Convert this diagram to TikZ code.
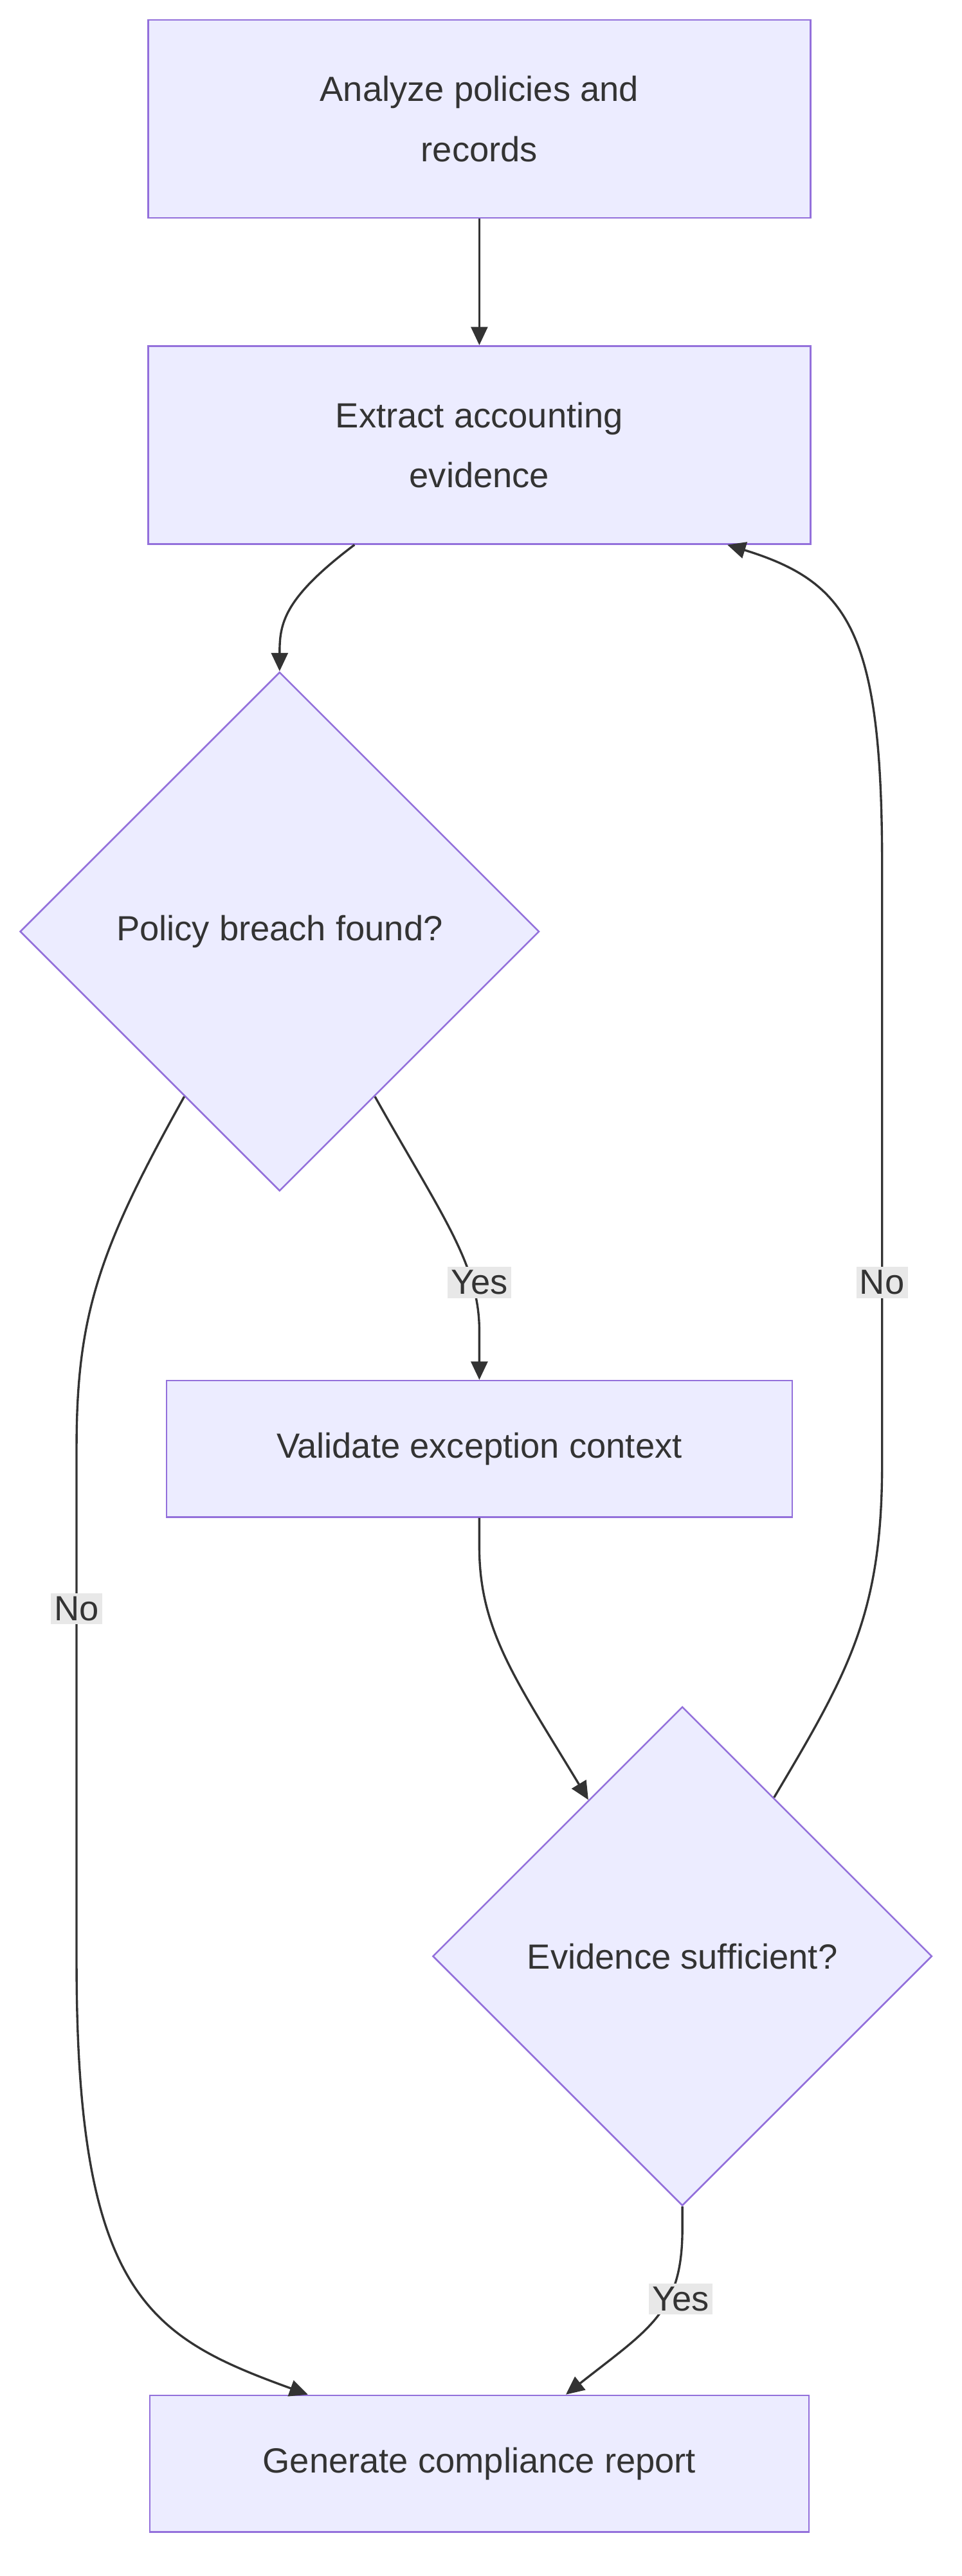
\documentclass[tikz,border=0pt]{standalone}
\usepackage{fontspec}
\setmainfont{Liberation Sans}
\usetikzlibrary{shapes.geometric,arrows.meta,calc}
\definecolor{nfill}{HTML}{ECECFF}
\definecolor{nstroke}{HTML}{9370DB}
\definecolor{txt}{HTML}{333333}
\definecolor{lbl}{HTML}{E8E8E8}
\begin{document}
\begin{tikzpicture}[x=1pt,y=-1pt,
  box/.style={draw=nstroke,fill=nfill,line width=1pt,text=txt,font=\fontsize{21}{36}\selectfont,align=center,inner sep=0pt},
  dia/.style={diamond,draw=nstroke,fill=nfill,line width=1pt,text=txt,font=\fontsize{21}{36}\selectfont,inner sep=0pt,aspect=1},
  edge/.style={draw=txt,line width=1.3pt,-{Triangle[length=11pt,width=10pt]}},
  lab/.style={fill=lbl,text=txt,font=\fontsize{21}{26}\selectfont,inner sep=2pt}]
\useasboundingbox (0,0) rectangle (578,1548.6);
\node[box,minimum width=398pt,minimum height=119pt] (A) at (288,71.5) {Analyze policies and\\records};
\node[box,minimum width=398pt,minimum height=119pt] (B) at (288,267.5) {Extract accounting\\evidence};
\node[dia,minimum width=312pt,minimum height=312pt] (C) at (168,560) {Policy breach found?};
\node[box,minimum width=376pt,minimum height=82pt] (D) at (288,871) {Validate exception context};
\node[dia,minimum width=300pt,minimum height=300pt] (E) at (410,1176) {Evidence sufficient?};
\node[box,minimum width=396pt,minimum height=82pt] (F) at (288,1481) {Generate compliance report};

\draw[edge] (A.south) -- (B.north);
\draw[edge] ([xshift=-75pt]B.south) .. controls (170,360) and (168,375) .. (C.north);
\draw[edge] (C.300) .. controls (265,730) and (288,760) .. (288,800) -- (D.north);
\node[lab] (ly1) at (288,771) {Yes};
\draw[edge] (C.240) .. controls (60,750) and (46,790) .. (46,870) -- (46,1180) .. controls (46,1380) and (90,1405) .. ([xshift=-103pt]F.north);
\node[lab] (ln1) at (46,967) {No};
\draw[edge] (D.south) -- (288,930) .. controls (288,980) and (310,1010) .. (E.121);
\draw[edge] (E.60) .. controls (510,1005) and (530,970) .. (530,880) -- (530,520) .. controls (530,380) and (510,350) .. ([xshift=149pt]B.south);
\node[lab] (ln2) at (530,771) {No};
\draw[edge] (E.south) -- (410,1340) .. controls (410,1390) and (390,1400) .. ([xshift=52pt]F.north);
\node[lab] (ly2) at (409,1382) {Yes};
\end{tikzpicture}
\end{document}
